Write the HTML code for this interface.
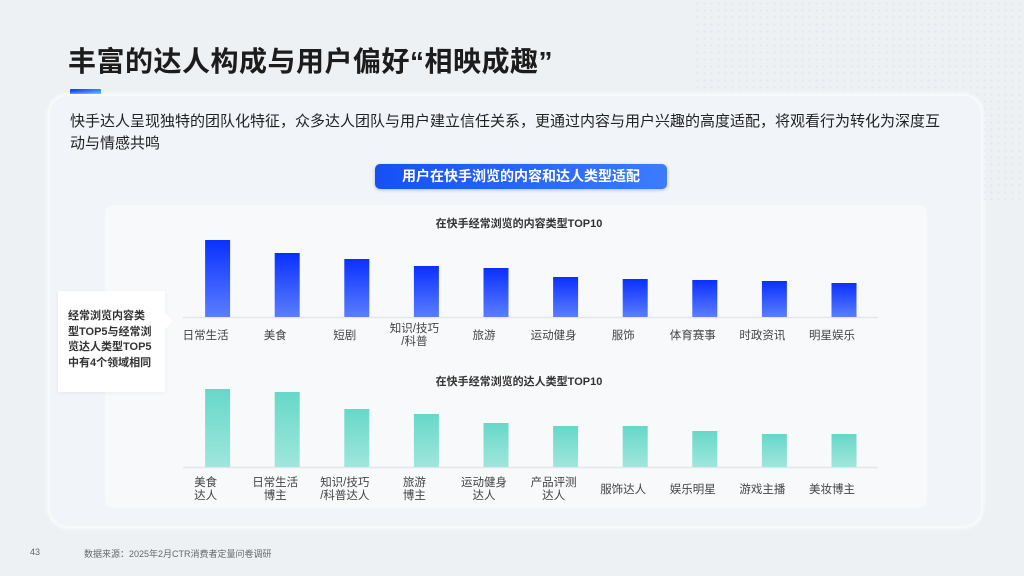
<!DOCTYPE html>
<html><head><meta charset="utf-8">
<style>
*{margin:0;padding:0;box-sizing:border-box}
body{width:1024px;height:576px;overflow:hidden;background:#eef1f4;font-family:"Liberation Sans","Noto Sans CJK SC",sans-serif;position:relative}
.dots{position:absolute;right:0;top:0;width:330px;height:200px;background-image:radial-gradient(#dfe3e8 1px,transparent 1.3px);background-size:7px 7px;opacity:.8}
.title{position:absolute;left:68px;top:40px;font-size:28px;font-weight:bold;color:#1c1c1c;letter-spacing:0.5px}
.accent{position:absolute;left:70px;top:89px;width:31px;height:6px;background:linear-gradient(90deg,#0a3cf0,#2f8cff);border-radius:1px}
.card{position:absolute;left:48px;top:94px;width:935px;height:434px;background:#f1f4f8;border-radius:20px;box-shadow:0 0 4px rgba(255,255,255,.9);border:2px solid #f8f9fb}
.para{position:absolute;left:70px;top:111px;width:880px;font-size:15px;line-height:22px;color:#222}
.pill{position:absolute;left:375px;top:164px;width:292px;height:25px;border-radius:5px;background:linear-gradient(90deg,#1650f5,#3d7bff);color:#fff;font-weight:bold;font-size:14px;text-align:center;line-height:25px;box-shadow:0 1px 3px rgba(20,60,200,.3)}
.panel{position:absolute;left:105px;top:205px;width:822px;height:303px;background:#f8f9fb;border-radius:8px}
.callout{position:absolute;left:58px;top:291px;width:107px;height:101px;background:#fff;padding:18px 0 0 10px;font-size:11px;font-weight:bold;line-height:15.5px;color:#333;box-shadow:0 1px 4px rgba(0,0,0,.05)}
.callout:after{content:"";position:absolute;right:-8px;top:22px;border-left:8px solid #fff;border-top:8px solid transparent;border-bottom:8px solid transparent}
.foot{position:absolute;top:547px;font-size:9px;color:#666}
svg{position:absolute;left:0;top:0}
</style></head><body>
<div class="dots"></div>
<div class="title">丰富的达人构成与用户偏好“相映成趣”</div>
<div class="accent"></div>
<div class="card"></div>
<div class="para">快手达人呈现独特的团队化特征，众多达人团队与用户建立信任关系，更通过内容与用户兴趣的高度适配，将观看行为转化为深度互动与情感共鸣</div>
<div class="pill">用户在快手浏览的内容和达人类型适配</div>
<div class="panel"></div>
<div class="callout">经常浏览内容类<br>型TOP5与经常浏<br>览达人类型TOP5<br>中有4个领域相同</div>
<svg id="chart" width="1024" height="576">
<defs>
<linearGradient id="gb" x1="0" y1="0" x2="0" y2="1"><stop offset="0" stop-color="#0a30ff"/><stop offset="1" stop-color="#5a7eff"/></linearGradient>
<linearGradient id="gg" x1="0" y1="0" x2="0" y2="1"><stop offset="0" stop-color="#66d8c8"/><stop offset="1" stop-color="#a0e6dc"/></linearGradient>
</defs>
</svg>
<div class="foot" style="left:30px">43</div>
<div class="foot" style="left:84px">数据来源：2025年2月CTR消费者定量问卷调研</div>
<script>
const contentCategories=["日常生活","美食","短剧","知识/技巧\n/科普","旅游","运动健身","服饰","体育赛事","时政资讯","明星娱乐"];
const contentValues=[77,64,58,51,49,40,38,37,36,34];
const creatorCategories=["美食\n达人","日常生活\n博主","知识/技巧\n/科普达人","旅游\n博主","运动健身\n达人","产品评测\n达人","服饰达人","娱乐明星","游戏主播","美妆博主"];
const creatorValues=[78,75,58,53,44,41,41,36,33,33];
const svg=document.getElementById('chart');
const NS='http://www.w3.org/2000/svg';
function xPos(i){return 217.6+i*69.6;}
function mk(tag,attrs){const e=document.createElementNS(NS,tag);for(const k in attrs)e.setAttribute(k,attrs[k]);svg.appendChild(e);return e;}
function drawChart(cats,vals,base,fill,title,titleY,key,labelOff){
  const ys=v=>base-v*1.0;
  const t=mk('text',{x:519,y:titleY,'text-anchor':'middle','font-size':'11','font-weight':'bold',fill:'#333'});
  t.textContent=title;
  
  
  const ax=mk('line',{x1:183,x2:878,y1:base+0.5,y2:base+0.5,stroke:'#e4e6ea','stroke-width':'1.5'});
  
  
  vals.forEach((v,i)=>{
    const r=mk('rect',{x:xPos(i)-12.5,y:ys(v),width:25,height:base-ys(v),fill:fill});
    
    
    const lines=cats[i].split('\n');
    const ly=(lines.length>1?base+15:base+22)+labelOff;
    lines.forEach((l,j)=>{
      const tx=mk('text',{x:xPos(i)-12,y:ly+j*13,'text-anchor':'middle','font-size':'11.5',fill:'#444'});
      tx.textContent=l;
      
      
    });
  });
}
drawChart(contentCategories,contentValues,317,'url(#gb)','在快手经常浏览的内容类型TOP10',227,'content',0);
drawChart(creatorCategories,creatorValues,467,'url(#gg)','在快手经常浏览的达人类型TOP10',385,'creator',4);
</script>
</body></html>
